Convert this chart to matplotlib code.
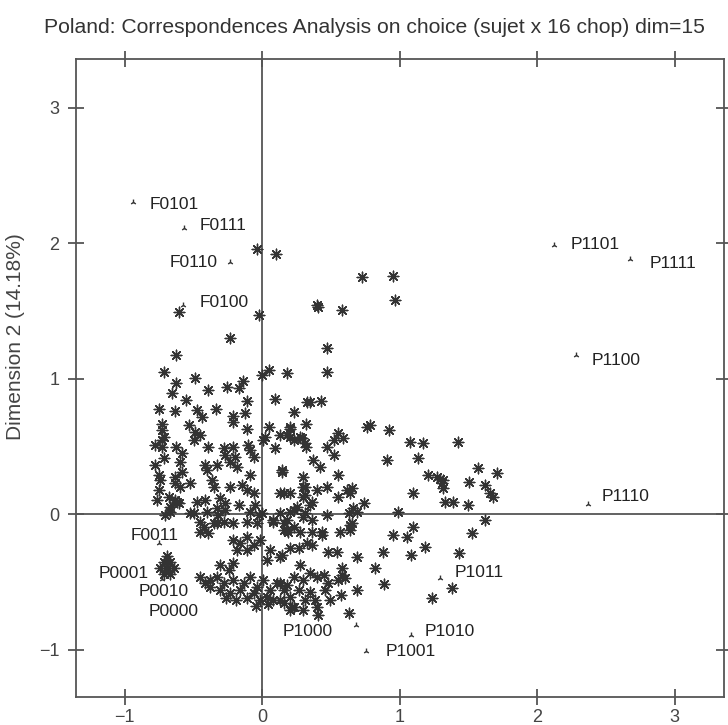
import matplotlib
matplotlib.use("Agg")
import matplotlib.pyplot as plt

plt.rcParams['font.family'] = ['Liberation Sans', 'DejaVu Sans']
plt.rcParams['axes.unicode_minus'] = True

# row points (sujets)
row_x = [
    -0.039, 0.100, -0.609, -0.027, -0.238, 0.398, 0.725, 0.955, 0.967, 0.409,
    0.580, 0.471, 0.471, 0.349, 0.427, -0.625, -0.718, -0.487, -0.625, -0.657,
    -0.391, -0.257, -0.172, -0.140, -0.553, -0.754, -0.633, -0.475, -0.439, -0.335,
    -0.111, -0.213, -0.209, -0.124, 0.046, -0.002, 0.180, 0.095, 0.228, 0.325,
    -0.729, -0.729, -0.718, -0.729, -0.536, -0.487, -0.451, -0.500, -0.111, 0.046,
    0.022, 0.009, 0.131, 0.204, 0.204, 0.276, 0.313, -0.729, -0.718, -0.625,
    -0.584, -0.596, -0.391, -0.281, -0.209, -0.269, -0.233, -0.184, -0.196, -0.100,
    -0.087, -0.063, 0.095, -0.415, -0.402, -0.329, -0.087, 0.143, -0.754, -0.742,
    -0.633, -0.584, -0.633, -0.596, -0.524, -0.366, -0.354, -0.233, -0.148, -0.111,
    -0.063, 0.155, 0.204, 0.300, 0.300, 0.300, -0.754, -0.681, -0.633, -0.669,
    -0.669, -0.609, -0.475, -0.415, -0.305, -0.269, -0.051, 0.204, 0.252, -0.500,
    -0.402, -0.329, -0.269, -0.172, -0.087, -0.002, 0.082, 0.180, 0.300, -0.451,
    -0.354, -0.281, -0.209, -0.111, -0.039, 0.320, 0.199, 0.180, 0.228, 0.289,
    0.320, 0.555, 0.519, 0.591, 0.471, 0.519, 0.373, 0.422, 0.143, 0.555,
    0.313, 0.313, 0.471, 0.398, 0.616, 0.652, 0.640, 0.555, 0.131, 0.361,
    0.349, 0.737, 0.228, 0.471, 0.628, 0.689, 0.652, 0.785, 0.761, 0.919,
    0.911, 1.076, 1.169, 1.137, 1.428, 1.209, 1.271, 1.295, 1.319, 1.307,
    1.319, 1.096, 1.331, 1.391, 1.496, 1.573, 1.707, 1.508, 1.622, 1.658,
    1.682, 0.991, 1.622, 1.100, 0.955, 1.052, 1.525, 1.185, 1.084, 0.878,
    0.689, 0.482, 0.543, 0.271, 0.361, 0.143, 1.435, 1.380, 1.234, 0.817,
    0.887, 0.689, 0.572, 0.628, 0.580, 0.580, 0.555, 0.604, 0.398, 0.349,
    0.446, 0.482, 0.385, 0.398, 0.409, 0.276, 0.228, 0.300, 0.180, 0.264,
    0.204, 0.228, 0.313, 0.131, 0.155, 0.131, 0.361, 0.434, 0.434, 0.567,
    0.640, 0.640, 0.228, 0.191, 0.155, 0.131, 0.313, 0.664, -0.693, -0.718,
    -0.669, -0.742, -0.693, -0.645, -0.718, -0.669, -0.620, -0.524, -0.320, -0.027,
    -0.451, -0.391, -0.427, -0.329, -0.209, -0.160, -0.111, -0.184, -0.111, -0.063,
    -0.015, 0.082, 0.180, 0.155, 0.276, 0.361, 0.325, 0.204, 0.058, 0.034,
    0.131, -0.305, -0.209, -0.245, -0.451, -0.378, -0.329, -0.281, -0.378, -0.305,
    -0.209, -0.136, -0.087, -0.039, 0.009, 0.058, 0.107, -0.160, -0.063, 0.034,
    -0.233, -0.111, 0.082, -0.015, 0.155, 0.300, 0.216, 0.204,
    -0.415, -0.262, -0.189, -0.044, 0.044, 0.349, 0.458, 0.495,
    -0.778, -0.764, -0.705, -0.778,
]
row_y = [
    1.956, 1.924, 1.493, 1.469, 1.297, 1.542, 1.751, 1.756, 1.579, 1.530,
    1.506, 1.230, 1.050, 0.829, 0.836, 1.173, 1.050, 1.006, 0.969, 0.891,
    0.920, 0.939, 0.928, 0.984, 0.846, 0.775, 0.760, 0.768, 0.714, 0.775,
    0.836, 0.723, 0.681, 0.748, 1.063, 1.026, 1.043, 0.849, 0.755, 0.829,
    0.669, 0.620, 0.570, 0.546, 0.657, 0.607, 0.583, 0.546, 0.627, 0.644,
    0.570, 0.546, 0.583, 0.632, 0.570, 0.570, 0.522, 0.497, 0.411, 0.497,
    0.448, 0.386, 0.492, 0.485, 0.492, 0.435, 0.386, 0.349, 0.423, 0.509,
    0.472, 0.423, 0.485, 0.362, 0.325, 0.362, 0.288, 0.312, 0.288, 0.251,
    0.275, 0.312, 0.227, 0.201, 0.227, 0.251, 0.201, 0.201, 0.214, 0.177,
    0.153, 0.153, 0.153, 0.275, 0.201, 0.128, 0.177, 0.128, 0.103, 0.054,
    0.017, 0.079, 0.091, 0.103, 0.116, 0.079, 0.066, 0.017, 0.054, 0.005,
    0.017, 0.042, 0.030, 0.066, 0.017, 0.005, -0.044, -0.044, -0.020, -0.057,
    -0.069, -0.057, -0.069, -0.057, -0.069, 0.669, 0.644, 0.583, 0.546, 0.559,
    0.497, 0.596, 0.546, 0.559, 0.497, 0.435, 0.399, 0.349, 0.325, 0.288,
    0.201, 0.140, 0.201, 0.177, 0.177, 0.190, 0.153, 0.128, 0.153, 0.091,
    0.066, 0.079, 0.030, -0.007, 0.005, 0.017, -0.069, 0.657, 0.644, 0.620,
    0.399, 0.534, 0.522, 0.411, 0.534, 0.288, 0.275, 0.263, 0.251, 0.227,
    0.190, 0.153, 0.091, 0.091, 0.066, 0.337, 0.305, 0.238, 0.214, 0.153,
    0.128, 0.017, -0.044, -0.094, -0.155, -0.168, -0.142, -0.241, -0.303, -0.278,
    -0.315, -0.278, -0.278, -0.253, -0.229, -0.303, -0.290, -0.548, -0.622, -0.401,
    -0.517, -0.561, -0.598, -0.733, -0.401, -0.450, -0.487, -0.475, -0.463, -0.438,
    -0.450, -0.511, -0.635, -0.684, -0.745, -0.376, -0.463, -0.487, -0.524, -0.561,
    -0.610, -0.684, -0.635, -0.511, -0.561, -0.635, -0.131, -0.131, -0.155, -0.131,
    -0.118, -0.081, -0.094, -0.131, -0.118, 0.005, 0.005, 0.042, -0.310, -0.354,
    -0.354, -0.399, -0.399, -0.399, -0.443, -0.443, 0.091, 0.007, -0.007, -0.007,
    -0.131, -0.142, -0.094, -0.069, -0.192, -0.216, -0.168, -0.266, -0.266, -0.229,
    -0.192, -0.057, -0.118, -0.069, -0.131, -0.044, -0.216, -0.253, -0.266, -0.339,
    -0.315, -0.376, -0.364, -0.413, -0.463, -0.487, -0.463, -0.511, -0.537, -0.561,
    -0.487, -0.511, -0.463, -0.537, -0.487, -0.561, -0.511, -0.561, -0.585, -0.610,
    -0.585, -0.622, -0.635, -0.635, -0.659, -0.708, -0.684, -0.708,
    -0.509, -0.620, -0.635, -0.679, -0.664, -0.576, -0.561, -0.635,
    0.362, 0.103, -0.007, 0.509,
]

# column points (chop) with labels
col_labels = ['F0101', 'F0111', 'F0110', 'F0100', 'F0011', 'P0001', 'P0010', 'P0000',
              'P1000', 'P1001', 'P1010', 'P1011', 'P1100', 'P1101', 'P1111', 'P1110']
col_x = [-0.940, -0.572, -0.238, -0.575, -0.754, -0.718, -0.729, -0.705,
         0.684, 0.756, 1.081, 1.295, 2.281, 2.126, 2.676, 2.369]
col_y = [2.305, 2.113, 1.862, 1.542, -0.216, -0.421, -0.480, -0.450,
         -0.819, -1.011, -0.893, -0.470, 1.173, 1.990, 1.880, 0.074]

# label placement (pixel offsets from the point, alignment)
label_offsets = [(17, -3, 'left'), (16, 2, 'left'), (-12, -1, 'right'), (16, 3, 'left'),
                 (-4, 8, 'center'), (-15, -2, 'right'), (2, -12, 'center'), (8, -36, 'center'),
                 (-23, -6, 'right'), (20, 0, 'left'), (14, 4, 'left'), (14, 5, 'left'),
                 (16, -5, 'left'), (16, 0, 'left'), (20, -4, 'left'), (14, 8, 'left')]

ink = '#333333'
axis_col = '#555555'

fig = plt.figure(figsize=(7.28, 7.25), dpi=100)
ax = fig.add_axes([76 / 728, 28 / 725, 648 / 728, 638 / 725])

ax.axhline(0, color=axis_col, lw=1.3, zorder=1)
ax.axvline(0, color=axis_col, lw=1.3, zorder=1)

ax.scatter(row_x, row_y, marker=(8, 2, 0), s=58, color=ink, linewidths=1.0, zorder=3)
ax.scatter(col_x, col_y, marker='2', s=18, color=ink, linewidths=1.0, zorder=3)

for lab, x, y, (dx, dy, ha) in zip(col_labels, col_x, col_y, label_offsets):
    ax.annotate(lab, (x, y), xytext=(dx, dy), textcoords='offset pixels',
                ha=ha, va='center', fontsize=12.5, color='#222222')

ax.set_xlim(-1.355, 3.36)
ax.set_ylim(-1.35, 3.36)
ax.set_xticks([-1, 0, 1, 2, 3])
ax.set_yticks([-1, 0, 1, 2, 3])
ax.tick_params(direction='inout', length=12, width=1.3, color=axis_col,
               labelsize=13, labelcolor='#444444', top=True, right=True)
ax.tick_params(axis='x', pad=3)
ax.tick_params(axis='y', pad=6)
for sp in ax.spines.values():
    sp.set_color(axis_col)
    sp.set_linewidth(1.3)

ax.set_ylabel('Dimension 2 (14.18%)', fontsize=15, color='#444444')
ax.yaxis.set_label_coords(-0.078, 0.565)
fig.text(0.515, 0.962, 'Poland: Correspondences Analysis on choice (sujet x 16 chop) dim=15',
         ha='center', va='center', fontsize=15.2, color='#333333')

fig.savefig('out.png', dpi=100)
